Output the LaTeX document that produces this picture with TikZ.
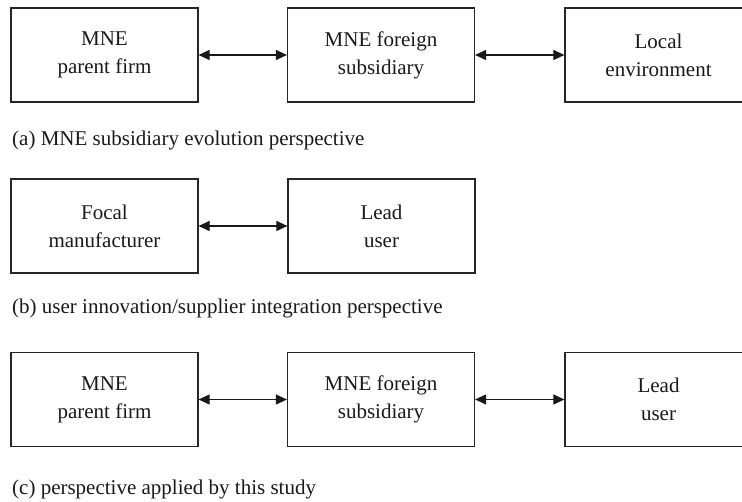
\documentclass[tikz,border=0pt]{standalone}
\usepackage{fontspec}
\setmainfont{Liberation Serif}
\usepackage{tikz}
\usetikzlibrary{arrows.meta}

\begin{document}
\begin{tikzpicture}[x=1pt, y=-1pt,
        box/.style={draw=black!85, line width=1.2pt, minimum width=187pt, minimum height=94pt,
            inner sep=0pt, align=center, text=black!90, font=\fontsize{21}{28}\selectfont},
        link/.style={{Triangle[length=11pt,width=10pt]}-{Triangle[length=11pt,width=10pt]}, line width=1.1pt, black!90},
        caption/.style={anchor=base west, inner sep=0pt, text=black!90, font=\fontsize{21}{24}\selectfont}]
        \useasboundingbox (0,0) rectangle (742,502);
        % (a) three boxes in a row
        \node[box] (parent) at (104.5,55) {MNE\\parent firm};
        \node[box] (subsid) at (381,55) {MNE foreign\\subsidiary};
        \node[box] (localenv) at (658.5,55) {Local\\environment};
        \draw[link] (parent) -- (subsid);
        \draw[link] (subsid) -- (localenv);
        \node[caption] (capa) at (12,146) {(a) MNE subsidiary evolution perspective};
        % (b) two boxes
        \node[box] (focal) at (104.5,226) {Focal\\manufacturer};
        \node[box] (leadb) at (381.5,226) {Lead\\user};
        \draw[link] (focal) -- (leadb);
        \node[caption] (capb) at (12,314) {(b) user innovation/supplier integration perspective};
        % (c) three boxes again
        \node[box] (parentc) at (104.5,399.5) {MNE\\parent firm};
        \node[box] (subsidc) at (381,399.5) {MNE foreign\\subsidiary};
        \node[box] (leadc) at (658.5,399.5) {Lead\\user};
        \draw[link] (parentc) -- (subsidc);
        \draw[link] (subsidc) -- (leadc);
        \node[caption] (capc) at (12,495) {(c) perspective applied by this study};
    \end{tikzpicture}
\end{document}
